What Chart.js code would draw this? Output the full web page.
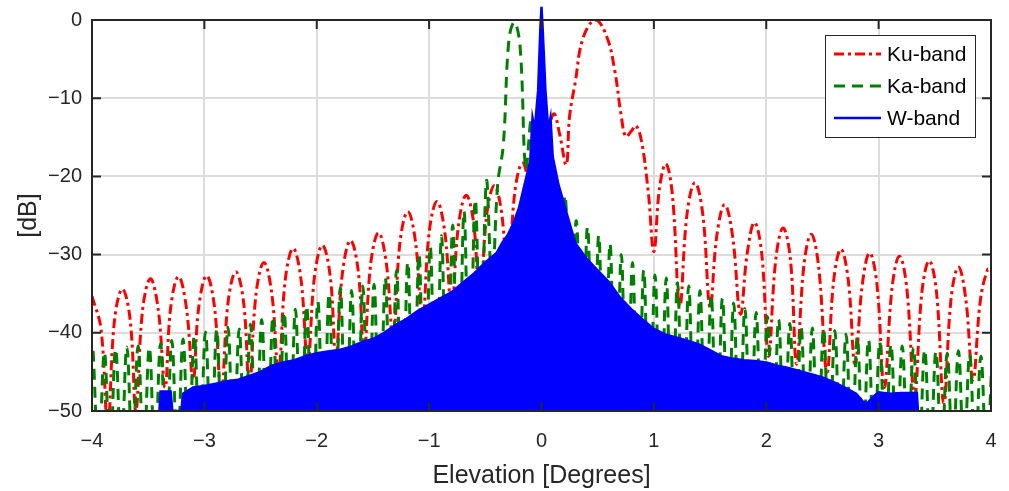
<!DOCTYPE html>
<html>
<head>
<meta charset="utf-8">
<title>Elevation pattern</title>
<script src="https://cdn.jsdelivr.net/npm/chart.js@4.4.0/dist/chart.umd.min.js"></script>
<style>
  html, body { margin: 0; padding: 0; background: #fff; }
  #wrap { width: 1009px; height: 491px; position: relative; }
</style>
</head>
<body>
<div id="wrap"><canvas id="pattern"></canvas></div>
<script>
// axis ticks
const xTicks = [-4, -3, -2, -1, 0, 1, 2, 3, 4];
const yTicks = [-50, -40, -30, -20, -10, 0];

// Ku-band: lobe nulls, shoulders and peaks (deg, dB)
const kuX = [-4.00, -3.92, -3.86,
             -3.80, -3.73, -3.66, -3.61,
             -3.55, -3.48, -3.41, -3.35,
             -3.30, -3.23, -3.16, -3.10,
             -3.05, -2.98, -2.91, -2.85,
             -2.79, -2.72, -2.65, -2.60,
             -2.54, -2.47, -2.40, -2.34,
             -2.28, -2.21, -2.14, -2.08,
             -2.02, -1.95, -1.88, -1.83,
             -1.77, -1.70, -1.63, -1.58,
             -1.52, -1.45, -1.38, -1.32,
             -1.26, -1.19, -1.12, -1.06,
             -1.00, -0.93, -0.86, -0.80,
             -0.74, -0.67, -0.60, -0.55,
             -0.49, -0.42, -0.35, -0.30,
             -0.24, -0.17, -0.10, -0.04,
             0.05, 0.11, 0.16, 0.22,
             0.25, 0.30, 0.37, 0.48, 0.58, 0.65, 0.71, 0.75,
             0.80, 0.84, 0.89, 0.95, 1.00,
             1.05, 1.107, 1.165, 1.23,
             1.295, 1.365, 1.435, 1.50,
             1.56, 1.63, 1.70, 1.77,
             1.83, 1.895, 1.96, 2.02,
             2.085, 2.15, 2.215, 2.27,
             2.335, 2.40, 2.465, 2.54,
             2.60, 2.665, 2.73, 2.79,
             2.855, 2.92, 2.985, 3.05,
             3.12, 3.185, 3.25, 3.32,
             3.385, 3.45, 3.515, 3.58,
             3.645, 3.71, 3.775, 3.84,
             3.905, 3.97, 4.00];
const kuY = [-35.3, -39.5, -52,
             -38.4, -34.4, -38.4, -50,
             -37.1, -33.1, -37.1, -47,
             -36.8, -32.8, -36.8, -46,
             -36.7, -32.7, -36.7, -48,
             -36.2, -32.2, -36.2, -47,
             -35.0, -31.0, -35.0, -45,
             -33.2, -29.2, -33.2, -44,
             -32.8, -28.8, -32.8, -43,
             -32.2, -28.2, -32.2, -43,
             -31.2, -27.2, -31.2, -41,
             -28.5, -24.5, -28.5, -39,
             -27.2, -23.2, -27.2, -37,
             -26.4, -22.4, -26.4, -38,
             -25.2, -21.2, -25.2, -35,
             -22.3, -18.3, -22.3, -30,
             -15.5, -12.0, -14.5, -18.5,
             -12.3, -8.0, -2.3, 0, -2.1, -6.3, -12.3, -14.9,
             -14.2, -13.5, -15.5, -22, -29.6,
             -21.5, -18.4, -22.4, -36.6,
             -24.8, -20.8, -24.8, -36.7,
             -27.6, -23.6, -27.6, -37.6,
             -29.9, -25.9, -29.9, -43,
             -30.6, -26.6, -30.6, -44,
             -31.4, -27.4, -31.4, -45,
             -33.3, -29.3, -33.3, -44,
             -33.8, -29.8, -33.8, -47,
             -34.2, -30.2, -34.2, -48,
             -34.8, -30.8, -34.8, -49,
             -35.6, -31.6, -35.6, -46,
             -35.9, -31.9, -32.0];

// Ka-band: sampled every 0.05 deg starting at -3.99 deg
const kaStart = -3.99;
const kaStep = 0.05;
const kaY = [-42.3, -56, -42.5, -56, -42.1, -56, -41.8, -56, -41.7, -56,
             -41.9, -56, -41.4, -56, -41.0, -56, -40.8, -56, -40.4, -56,
             -39.9, -56, -39.6, -56, -39.3, -56, -39.5, -56, -38.9, -56,
             -38.3, -56, -38.0, -56, -37.4, -56, -37.0, -56, -36.6, -56,
             -36.0, -56, -35.0, -56, -34.2, -56, -34.6, -56, -34.0, -56,
             -33.8, -56, -33.0, -56, -32.0, -56, -31.0, -56, -30.0, -56,
             -29.0, -56, -27.6, -56, -26.2, -56, -24.5, -50, -23.0, -45,
             -20.6, -34, -21.0, -16.0, -2.5, -0.3, -3.5, -19, -12.7, -32,
             -17.0, -35, -20.0, -38, -22.5, -42, -25.7, -46, -26.5, -50,
             -27.6, -56, -28.6, -56, -30.0, -56, -31.0, -56, -32.0, -56,
             -32.6, -56, -33.0, -56, -33.6, -56, -34.0, -56, -34.6, -56,
             -35.2, -56, -35.6, -56, -36.2, -56, -36.9, -56, -37.4, -56,
             -37.9, -56, -38.3, -56, -38.8, -56, -39.3, -56, -39.4, -56,
             -39.5, -56, -39.7, -56, -40.2, -56, -40.6, -56, -40.9, -56,
             -41.2, -56, -41.5, -56, -41.7, -56, -41.9, -56, -42.2, -56,
             -42.4, -56, -42.6, -56, -42.3, -56, -42.8, -56, -43.0, -56,
             -43.2];

// W-band: upper edge of the dense lobe region (filled down to the floor)
const wX = [-3.40, -3.39, -3.30, -3.285, -3.205, -3.19, -3.10, -3.00, -2.90, -2.80,
            -2.70, -2.60, -2.50, -2.40, -2.30, -2.20, -2.10, -2.00, -1.90, -1.80,
            -1.70, -1.60, -1.50, -1.40, -1.30, -1.20, -1.10, -1.00, -0.90, -0.80,
            -0.70, -0.60, -0.50, -0.40, -0.35, -0.30, -0.25, -0.20, -0.15, -0.10,
            -0.08, -0.06, -0.03, -0.01, 0.00, 0.01, 0.035, 0.06, 0.08, 0.10,
            0.15, 0.20, 0.25, 0.30, 0.40, 0.50, 0.60, 0.70, 0.80, 0.90,
            1.00, 1.10, 1.20, 1.30, 1.40, 1.50, 1.60, 1.70, 1.80, 1.90,
            2.00, 2.10, 2.20, 2.30, 2.40, 2.50, 2.60, 2.70, 2.80, 2.86,
            2.90, 2.95, 3.00, 3.10, 3.20, 3.34, 3.35];
const wY = [-50, -47.5, -47.5, -50, -50, -47.8, -47.0, -46.8, -46.5, -46.2,
            -46.0, -45.5, -45.0, -44.2, -43.8, -43.5, -43.0, -42.6, -42.4, -42.2,
            -41.8, -41.2, -40.8, -40.0, -39.0, -38.2, -37.2, -36.4, -35.6, -34.8,
            -33.6, -32.4, -31.0, -29.8, -28.5, -27.5, -26.0, -24.0, -21.0, -18.0,
            -12.5, -14.0, -9.0, -1.0, 1.7, -1.0, -9.0, -14.0, -12.5, -17.5,
            -21.0, -23.5, -26.0, -28.5, -30.5, -32.0, -33.5, -35.5, -37.0, -38.3,
            -39.5, -40.2, -40.6, -41.0, -41.5, -42.2, -43.0, -43.3, -43.5, -43.6,
            -43.8, -44.2, -44.5, -44.9, -45.3, -45.7, -46.3, -47.0, -47.8, -48.8,
            -49.0, -48.2, -47.6, -47.8, -47.7, -47.7, -50];

const pts = (xs, ys) => ys.map((v, i) => ({x: xs[i], y: v}));
const kaPts = kaY.map((v, i) => ({x: kaStart + i * kaStep, y: v}));
const minus = v => String(v).replace('-', '\u2212');

Chart.defaults.font.family = '"Liberation Sans", Arial, Helvetica, sans-serif';
Chart.defaults.color = '#262626';

// box around the plot with inward ticks on all four sides
const framePlugin = {
  id: 'frame',
  afterDatasetsDraw(chart) {
    const {ctx, chartArea: a, scales: {x, y}} = chart;
    ctx.save();
    ctx.strokeStyle = '#262626';
    ctx.lineWidth = 2;
    ctx.strokeRect(a.left, a.top, a.right - a.left, a.bottom - a.top);
    ctx.beginPath();
    xTicks.forEach(v => {
      const px = x.getPixelForValue(v);
      ctx.moveTo(px, a.bottom); ctx.lineTo(px, a.bottom - 9);
      ctx.moveTo(px, a.top); ctx.lineTo(px, a.top + 9);
    });
    yTicks.forEach(v => {
      const py = y.getPixelForValue(v);
      ctx.moveTo(a.left, py); ctx.lineTo(a.left + 9, py);
      ctx.moveTo(a.right, py); ctx.lineTo(a.right - 9, py);
    });
    ctx.stroke();
    ctx.restore();
  }
};

// boxed legend inside the top right corner of the plot
const legendPlugin = {
  id: 'boxLegend',
  afterDraw(chart) {
    const {ctx, chartArea: a} = chart;
    const w = 150, h = 102;
    const left = a.right - 16 - w, top = a.top + 15;
    ctx.save();
    ctx.fillStyle = '#fff';
    ctx.fillRect(left, top, w, h);
    ctx.strokeStyle = '#262626';
    ctx.lineWidth = 1;
    ctx.strokeRect(left + 0.5, top + 0.5, w, h);
    ctx.font = '21px "Liberation Sans", Arial, sans-serif';
    ctx.textBaseline = 'middle';
    chart.data.datasets.forEach((ds, i) => {
      const yy = top + 19 + i * 32;
      ctx.strokeStyle = ds.borderColor;
      ctx.lineWidth = ds.borderWidth;
      ctx.setLineDash(ds.borderDash || []);
      ctx.beginPath();
      ctx.moveTo(left + 9, yy);
      ctx.lineTo(left + 56, yy);
      ctx.stroke();
      ctx.setLineDash([]);
      ctx.fillStyle = '#000';
      ctx.fillText(ds.label, left + 62, yy + 1);
    });
    ctx.restore();
  }
};

new Chart(document.getElementById('pattern'), {
  type: 'line',
  data: {
    datasets: [
      {
        label: 'Ku-band',
        data: pts(kuX, kuY),
        borderColor: '#ff0000',
        borderWidth: 3,
        borderDash: [10, 4, 3, 4],
        tension: 0.4,
        pointRadius: 0,
        fill: false,
        order: 3
      },
      {
        label: 'Ka-band',
        data: kaPts,
        borderColor: '#008000',
        borderWidth: 3,
        borderDash: [11, 7],
        tension: 0.4,
        pointRadius: 0,
        fill: false,
        order: 2
      },
      {
        label: 'W-band',
        data: pts(wX, wY),
        borderColor: '#0000ff',
        backgroundColor: '#0000ff',
        borderWidth: 2.5,
        tension: 0,
        pointRadius: 0,
        fill: 'start',
        clip: {left: 0, top: 20, right: 0, bottom: 0},
        order: 1
      }
    ]
  },
  options: {
    responsive: true,
    maintainAspectRatio: false,
    animation: false,
    layout: { padding: {top: 20, right: 18, left: 0, bottom: 0} },
    plugins: {
      legend: { display: false },
      tooltip: { enabled: false }
    },
    scales: {
      x: {
        type: 'linear',
        min: -4,
        max: 4,
        afterFit: s => { s.height = 80; s.paddingLeft = 0; s.paddingRight = 0; },
        afterBuildTicks: s => { s.ticks = xTicks.map(v => ({value: v})); },
        ticks: { font: {size: 20}, padding: 18, callback: minus, maxRotation: 0 },
        grid: { color: '#dcdcdc', lineWidth: 2, drawTicks: false },
        border: { display: false },
        title: { display: true, text: 'Elevation [Degrees]', font: {size: 25}, padding: {top: 0, bottom: 0} }
      },
      y: {
        type: 'linear',
        min: -50,
        max: 0,
        afterFit: s => { s.width = 92; s.paddingTop = 0; s.paddingBottom = 0; },
        afterBuildTicks: s => { s.ticks = yTicks.map(v => ({value: v})); },
        ticks: { font: {size: 20}, padding: 10, callback: minus },
        grid: { color: '#dcdcdc', lineWidth: 2, drawTicks: false },
        border: { display: false },
        title: { display: true, text: '[dB]', font: {size: 25}, padding: {top: 14, bottom: 0} }
      }
    }
  },
  plugins: [framePlugin, legendPlugin]
});
</script>
</body>
</html>
